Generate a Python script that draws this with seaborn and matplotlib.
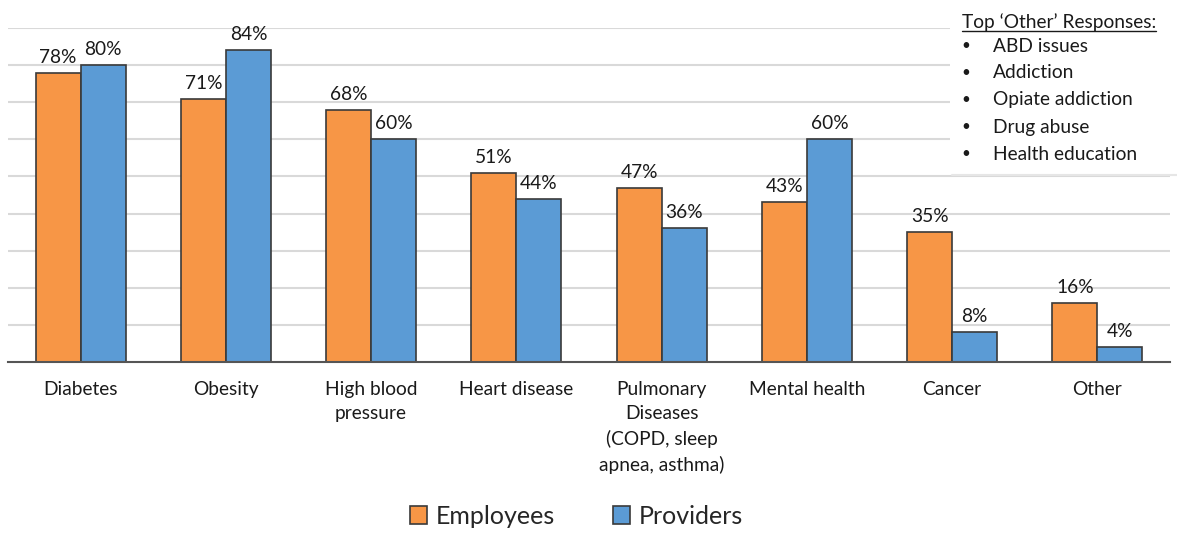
import matplotlib
matplotlib.use("Agg")
import matplotlib.pyplot as plt
from matplotlib.patches import Rectangle
from matplotlib.lines import Line2D
import seaborn as sns
import pandas as pd

categories = ["Diabetes", "Obesity", "High blood\npressure", "Heart disease",
              "Pulmonary\nDiseases\n(COPD, sleep\napnea, asthma)", "Mental health",
              "Cancer", "Other"]
employees = [78, 71, 68, 51, 47, 43, 35, 16]
providers = [80, 84, 60, 44, 36, 60, 8, 4]
groups = ["Employees", "Providers"]
other_title = "Top \u2018Other\u2019 Responses:"
other_items = ["ABD issues", "Addiction", "Opiate addiction", "Drug abuse", "Health education"]

colors = {"Employees": "#F79646", "Providers": "#5B9BD5"}

df = pd.DataFrame({
    "category": categories * 2,
    "group": [groups[0]] * len(categories) + [groups[1]] * len(categories),
    "value": employees + providers,
})

sns.set_theme(style="white")
plt.rcParams["font.family"] = ["Lato", "DejaVu Sans"]

W, H = 1177, 534
fig = plt.figure(figsize=(W / 100, H / 100), dpi=100)
ax = fig.add_axes([8 / W, 1 - 362 / H, 1162 / W, (362 - 28) / H])

sns.barplot(data=df, x="category", y="value", hue="group", palette=colors,
            width=0.62, edgecolor="#3a3a3a", linewidth=1.2, ax=ax,
            saturation=1, legend=True, zorder=3)

ax.set_ylim(0, 90)
ax.set_xlim(-0.5, len(categories) - 0.5)
ax.set_yticks(range(10, 91, 10))
ax.yaxis.grid(True, color="#d9d9d9", linewidth=1.5, zorder=0)
ax.set_axisbelow(True)
ax.tick_params(axis="y", left=False, labelleft=False)
ax.tick_params(axis="x", bottom=False, pad=8, labelsize=13.8, colors="#1a1a1a")
ax.set_xlabel("")
ax.set_ylabel("")
for side in ["left", "right", "top"]:
    ax.spines[side].set_visible(False)
ax.spines["bottom"].set_color("#555555")
ax.spines["bottom"].set_linewidth(1.5)
ax.spines["bottom"].set_zorder(4)
for lbl in ax.get_xticklabels():
    lbl.set_linespacing(1.5)
    lbl.set_verticalalignment("top")

for cont in ax.containers:
    ax.bar_label(cont, fmt="%d%%", padding=5, fontsize=13.8, color="#1a1a1a")

handles, labels = ax.get_legend_handles_labels()
ax.legend_.remove()
fig.legend(handles, labels, loc="center", bbox_to_anchor=(0.49, 1 - 516 / H),
           ncol=2, frameon=False, fontsize=18, handlelength=0.7, handleheight=0.7,
           handletextpad=0.35, columnspacing=2.3)

# callout box listing the most common "Other" answers
fig.add_artist(Rectangle((950 / W, 1 - 174 / H), 227 / W, 174 / H,
                         transform=fig.transFigure, facecolor="white",
                         edgecolor="none", zorder=5))
fig.add_artist(Line2D([952 / W, 1], [1 - 175 / H, 1 - 175 / H],
                      transform=fig.transFigure, color="#e6e6e6", linewidth=1.5, zorder=6))
t = fig.text(962 / W, 1 - 28 / H, other_title, fontsize=13.8, color="#1a1a1a",
             va="baseline", ha="left", zorder=7)
fig.canvas.draw()
bb = t.get_window_extent()
fig.add_artist(Line2D([bb.x0 / W, bb.x1 / W], [1 - 31 / H, 1 - 31 / H],
                      transform=fig.transFigure, color="#1a1a1a", linewidth=1.0, zorder=7))
for i, item in enumerate(other_items):
    y = 1 - (46 + 27 * i) / H
    fig.text(966 / W, y, "\u2022", fontsize=11, color="#1a1a1a", va="center", ha="center", zorder=7)
    fig.text(993 / W, y, item, fontsize=13.8, color="#1a1a1a", va="center", ha="left", zorder=7)

fig.savefig("out.png", dpi=100, facecolor="white")
